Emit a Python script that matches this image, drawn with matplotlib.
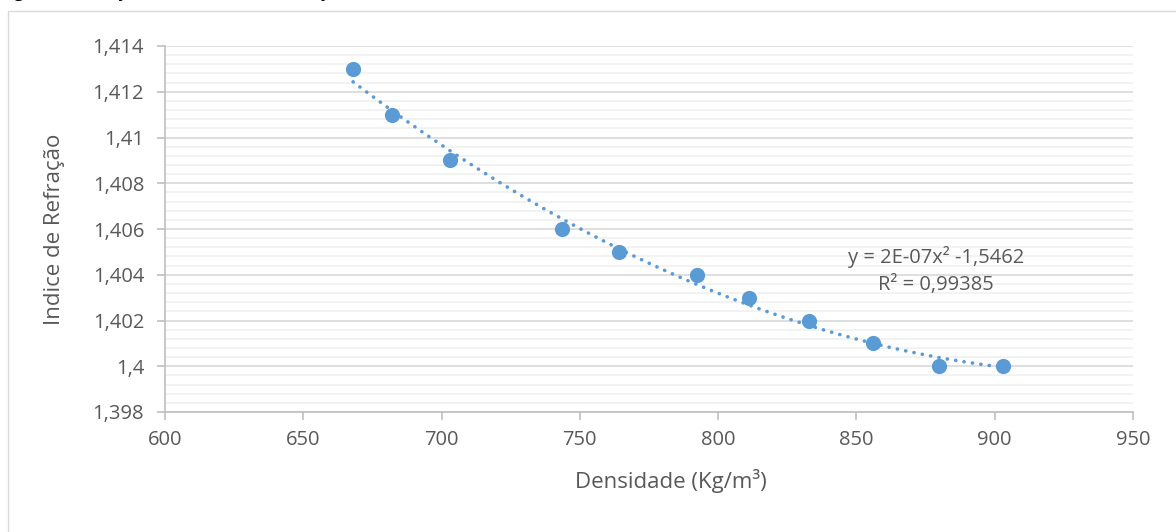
import matplotlib.pyplot as plt
import numpy as np
from matplotlib.patches import Rectangle
from matplotlib.ticker import MultipleLocator, FuncFormatter

# dados
densidade = [668, 682, 703, 743.5, 764, 792.5, 811, 833, 856, 880, 903]
indice = [1.413, 1.411, 1.409, 1.406, 1.405, 1.404, 1.403, 1.402, 1.401, 1.400, 1.400]
y_ticks = [1.398, 1.400, 1.402, 1.404, 1.406, 1.408, 1.410, 1.412, 1.414]
x_ticks = [600, 650, 700, 750, 800, 850, 900, 950]

plt.rcParams['font.family'] = ['Open Sans', 'DejaVu Sans']
cor = '#5b9bd5'
cinza = '#595959'

fig = plt.figure(figsize=(11.76, 5.32), dpi=100)
fig.patches.append(Rectangle((8 / 1176, -0.1), 1.2, 1 - 11 / 532 + 0.1,
                             transform=fig.transFigure, fill=False,
                             edgecolor='#d9d9d9', linewidth=1))
# titulo cortado no topo da imagem original
fig.text(0.0, 1.006, 'Figura 8 - Relação entre índice de refração e densidade',
         fontsize=12, fontweight='bold', va='baseline', ha='left')

ax = fig.add_axes([165 / 1176, 1 - 412 / 532, 968 / 1176, 366 / 532])

# linha de tendencia polinomial (ordem 2)
coef = np.polyfit(densidade, indice, 2)
xs = np.linspace(min(densidade), max(densidade), 200)
ax.plot(xs, np.polyval(coef, xs), linestyle=(0, (0.05, 2.3)), color=cor,
        linewidth=2.6, dash_capstyle='round', zorder=2)
ax.scatter(densidade, indice, s=120, color=cor, zorder=3, linewidths=0)

ax.set_xlim(600, 950)
ax.set_ylim(1.398, 1.414)
ax.set_xticks(x_ticks)
ax.set_yticks(y_ticks)
ax.yaxis.set_minor_locator(MultipleLocator(0.0004))
ax.yaxis.set_major_formatter(FuncFormatter(lambda v, p: ('%g' % round(v, 4)).replace('.', ',')))

ax.grid(axis='y', which='major', color='#d9d9d9', linewidth=1.2)
ax.grid(axis='y', which='minor', color='#f0f0f0', linewidth=1.2)
ax.set_axisbelow(True)
for s in ['top', 'right']:
    ax.spines[s].set_visible(False)
for s in ['left', 'bottom']:
    ax.spines[s].set_color('#bfbfbf')
    ax.spines[s].set_linewidth(1.2)
ax.tick_params(axis='both', which='major', colors='#bfbfbf', labelcolor=cinza,
               labelsize=14.5, length=6, width=1.2)
ax.tick_params(axis='y', which='minor', length=0)
ax.tick_params(axis='y', pad=9)
ax.tick_params(axis='x', pad=7)

ax.set_ylabel('Indice de Refração', fontsize=16, color=cinza)
ax.yaxis.set_label_coords(-(165 - 65) / 968, 0.5)
fig.text(671 / 1176, 1 - 481 / 532, 'Densidade (Kg/m³)', fontsize=16,
         color=cinza, ha='center', va='center')

ax.text(878.8, 1.40419, 'y = 2E-07x² -1,5462\nR² = 0,99385', fontsize=14.5,
        color=cinza, ha='center', va='center', linespacing=1.45)

plt.savefig('out.png', dpi=100)
